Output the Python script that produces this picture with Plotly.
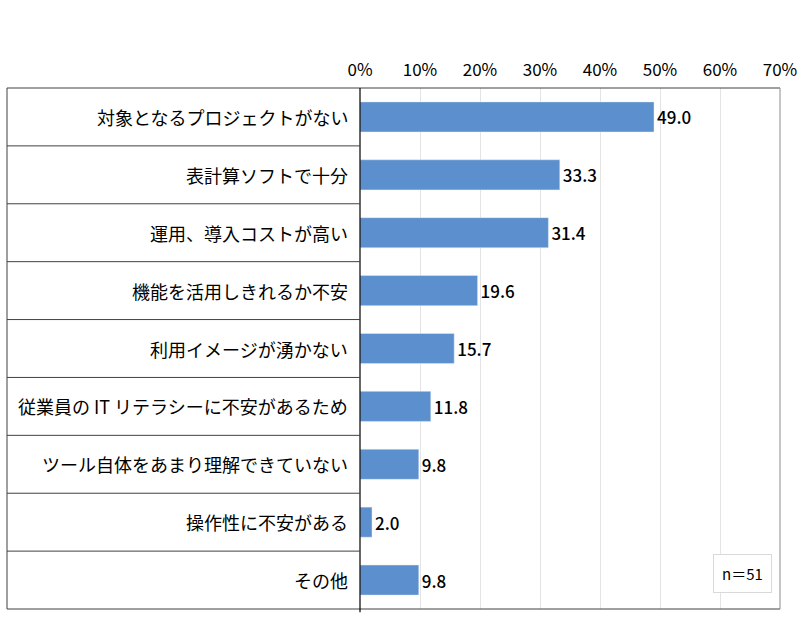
import plotly.graph_objects as go

# 回答項目と割合(%)
categories = [
    "対象となるプロジェクトがない",
    "表計算ソフトで十分",
    "運用、導入コストが高い",
    "機能を活用しきれるか不安",
    "利用イメージが湧かない",
    "従業員の IT リテラシーに不安があるため",
    "ツール自体をあまり理解できていない",
    "操作性に不安がある",
    "その他",
]
values = [49.0, 33.3, 31.4, 19.6, 15.7, 11.8, 9.8, 2.0, 9.8]
tick_vals = [0, 10, 20, 30, 40, 50, 60, 70]
tick_text = ["%d%%" % v for v in tick_vals]
n_label = "n＝51"

FONT = "Noto Sans CJK JP"

fig = go.Figure(go.Bar(
    x=values,
    y=categories,
    orientation="h",
    marker_color="#5b8fcd",
    width=0.52,
    text=["%.1f" % v for v in values],
    textposition="outside",
    textfont=dict(size=17, color="black", family=FONT, weight=500),
    cliponaxis=False,
))

fig.update_layout(
    width=800, height=631,
    margin=dict(l=360, r=20, t=88, b=22),
    paper_bgcolor="white",
    plot_bgcolor="white",
    showlegend=False,
    font=dict(family=FONT, size=16, color="black"),
    xaxis=dict(
        side="top",
        range=[0, 70],
        tickvals=tick_vals,
        ticktext=tick_text,
        showgrid=True,
        gridcolor="#e3e3e3",
        zeroline=False,
        showline=False,
        ticks="",
        automargin=False,
        ticklabelstandoff=8,
        tickfont=dict(size=17, family=FONT),
    ),
    yaxis=dict(
        autorange="reversed",
        showticklabels=False,
        showgrid=False,
        zeroline=False,
        showline=False,
        automargin=False,
    ),
)

# 項目ラベル(左側の表)
for c in categories:
    fig.add_annotation(
        x=-0.024, xref="x domain", y=c, yref="y",
        text=c, showarrow=False, xanchor="right",
        font=dict(size=18, family=FONT, color="black"),
    )

# 表の枠線
left = -353 / 420  # 左端 (x domain 単位)
line_dark = dict(color="#404040", width=1)
fig.add_shape(type="line", xref="x domain", yref="y domain",
              x0=left, x1=1, y0=1, y1=1, line=line_dark)
fig.add_shape(type="line", xref="x domain", yref="y domain",
              x0=left, x1=1, y0=0, y1=0, line=line_dark)
fig.add_shape(type="line", xref="x domain", yref="y domain",
              x0=left, x1=left, y0=0, y1=1, line=line_dark)
fig.add_shape(type="line", xref="x domain", yref="y domain",
              x0=1, x1=1, y0=0, y1=1, line=dict(color="#8c8c8c", width=1))
fig.add_shape(type="line", xref="x domain", yref="y domain",
              x0=0, x1=0, y0=-0.006, y1=1, line=dict(color="black", width=1.2))
for i in range(1, len(categories)):
    fig.add_shape(type="line", xref="x domain", yref="y",
                  x0=left, x1=0, y0=i - 0.5, y1=i - 0.5, line=line_dark)

# n数
fig.add_annotation(
    x=0.98, xref="x domain", y=0.03, yref="y domain",
    text=n_label, showarrow=False, xanchor="right", yanchor="bottom",
    font=dict(size=15, family=FONT, color="black"),
    bordercolor="#d9d9d9", borderwidth=1, borderpad=8, bgcolor="white",
)

fig.write_html("out.html", config={"displayModeBar": False},
               post_script="document.body.style.margin='0';")
